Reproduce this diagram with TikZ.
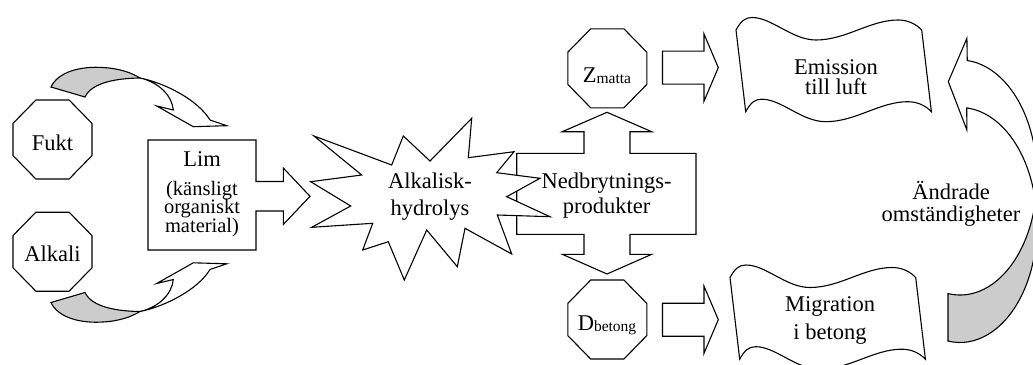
\documentclass[tikz,border=0pt]{standalone}
\usepackage{fontspec}
\setmainfont{Liberation Serif}
\usetikzlibrary{calc}
\definecolor{backface}{gray}{0.8}
\lineskiplimit=-100pt
\newcommand{\idxsize}{\fontsize{15.5}{16}\selectfont}
\newcommand{\notesize}{\fontsize{20.5}{20}\selectfont}

% curved block arrow bending over from the left (back face grey)
\newcommand{\leftcurl}{%
  \draw[backline] (51,87) .. controls (58,72) and (80,66) .. (103,67.5)
     .. controls (120,68.5) and (132,73) .. (140,78)
     .. controls (118,78.3) and (92,82) .. (85,97) -- cycle;
  \draw[shapeline] (140,78) .. controls (165,83) and (198,100) .. (210,120)
     -- (226.7,125.7) -- (193.3,126.7) -- (156.7,106) -- (173.3,110)
     .. controls (172,95) and (158,82) .. (140,78) -- cycle;
}
% wavy banner outline
\newcommand{\flag}{%
  \draw[shapeline] (736,30) .. controls (741,21) and (745,17.5) .. (752,17.5)
     .. controls (772,17.5) and (792,40) .. (816,40)
     .. controls (846,40) and (870,20) .. (898,20)
     .. controls (908,20) and (916,24) .. (921.7,30)
     -- (931.4,111.7) .. controls (925.7,105.7) and (917.7,101.7) .. (907.7,101.7)
     .. controls (879.7,101.7) and (855.7,121.7) .. (825.7,121.7)
     .. controls (801.7,121.7) and (781.7,99.2) .. (761.7,99.2)
     .. controls (754.7,99.2) and (750.7,102.7) .. (745.7,111.7) -- cycle;
}

\tikzset{
  shapeline/.style={draw=black, line width=1.1pt, fill=white, line join=miter},
  backline/.style={draw=black, line width=1.1pt, fill=backface},
  label/.style={font=\fontsize{22.5}{22}\selectfont, align=center, anchor=base, inner sep=0pt},
  pics/octa/.style={code={
    \draw[shapeline] (-16.6,-39.5) -- (16.6,-39.5) -- (39.5,-16.1) -- (39.5,16.1)
      -- (16.6,39.5) -- (-16.6,39.5) -- (-39.5,16.1) -- (-39.5,-16.1) -- cycle;}},
  pics/rblock/.style={code={
    \draw[shapeline] (0,-16.5) -- (41.5,-16.5) -- (41.5,-33.6) -- (55.8,0)
      -- (41.5,33.6) -- (41.5,16.5) -- (0,16.5) -- cycle;}}
}

\begin{document}
\begin{tikzpicture}[x=1pt,y=-1pt]
\clip (0,0) rectangle (1033,364);

% glue box with its outgoing arrow
\draw[shapeline] (148,140) -- (256,140) -- (256,181.5) -- (283.3,181.5) -- (283.3,168)
  -- (310,196.3) -- (283.3,224.5) -- (283.3,211) -- (256,211) -- (256,250) -- (148,250) -- cycle;

% curved arrows from moisture and alkali
\leftcurl
\begin{scope}[shift={(0,389.5)}, yscale=-1]
  \leftcurl
\end{scope}

% octagons
\pic at (52.5,139.5) {octa};
\pic at (52.5,251.7) {octa};
\pic at (607.3,68.3) {octa};
\pic at (607.3,319.5) {octa};

% degradation products box with up and down arrows
\draw[shapeline] (516.7,153.3) -- (584,153.3) -- (584,131.7) -- (562.3,131.7) -- (607,112.3)
  -- (651.7,131.7) -- (630,131.7) -- (630,153.3) -- (696,153.3) -- (696,234.3)
  -- (630,234.3) -- (630,254.3) -- (651.7,254.3) -- (607,274) -- (562.3,254.3)
  -- (584,254.3) -- (584,234.3) -- (516.7,234.3) -- cycle;

% hydrolysis burst
\draw[shapeline] (314,136) -- (391.7,165) -- (403.3,136) -- (430,161) -- (471.7,118.3)
  -- (468.3,157.7) -- (514,151.7) -- (496.7,172.7) -- (540,178.3) -- (506.7,196.7)
  -- (550,216.7) -- (497.3,215) -- (511.7,254) -- (465,228.3) -- (457.3,266.7)
  -- (426.7,230) -- (404.3,280) -- (388.3,241.7) -- (362.7,250) -- (372.7,223.3)
  -- (311.7,227.3) -- (350.7,206) -- (310.7,181.7) -- (361.7,175) -- cycle;

% block arrows towards the outcomes
\pic at (662.5,67.6) {rblock};
\pic at (662.5,319.7) {rblock};

% outcome banners
\flag
\begin{scope}[shift={(-6,247.5)}]
  \flag
\end{scope}

% curved arrow on the right, built from two offset ellipses
\coordinate (ea) at (960,177.5);
\coordinate (eb) at (960,225);
\draw[backline] ($(ea)+(11.66:77 and 117.5)$)
  arc[start angle=11.66, end angle=98.97, x radius=77, y radius=117.5]
  -- ($(eb)+(98.97:77 and 117.5)$)
  arc[start angle=98.97, end angle=-11.66, x radius=77, y radius=117.5] -- cycle;
\draw[shapeline] ($(ea)+(-84.6:77 and 117.5)$)
  arc[start angle=-84.6, end angle=11.66, x radius=77, y radius=117.5]
  -- ($(eb)+(-11.66:77 and 117.5)$)
  arc[start angle=-11.66, end angle=-85, x radius=77, y radius=117.5]
  -- (966.9,130) -- (948.3,81.7) -- (966.9,38.3) -- cycle;

% texts (base anchor sits on the last line)
\node[label] (fukt) at (52.5,150.7) {Fukt};
\node[label] (alkali) at (52.5,261.7) {Alkali};
\node[label] (lim) at (202,232.7) {Lim\\[6.7pt]{\notesize (känsligt}\\[-3.5pt]{\notesize organiskt}\\[-3pt]{\notesize material)}};
\node[label] (hydro) at (430,215) {Alkalisk-\\[4.7pt]hydrolys};
\node[label] (nedbr) at (606.5,213.5) {Nedbrytnings-\\[3pt]produkter};
\node[label] (zm) at (607,82) {Z\raisebox{-1pt}{\idxsize matta}};
\node[label] (db) at (607,330) {D\raisebox{-1pt}{\idxsize betong}};
\node[label] (emis) at (836,94.5) {Emission\\[-1.5pt]till luft};
\node[label] (migr) at (830,339.3) {Migration\\[5.6pt]i betong};
\node[label] (andr) at (951,221.7) {Ändrade\\omständigheter};
\end{tikzpicture}
\end{document}
